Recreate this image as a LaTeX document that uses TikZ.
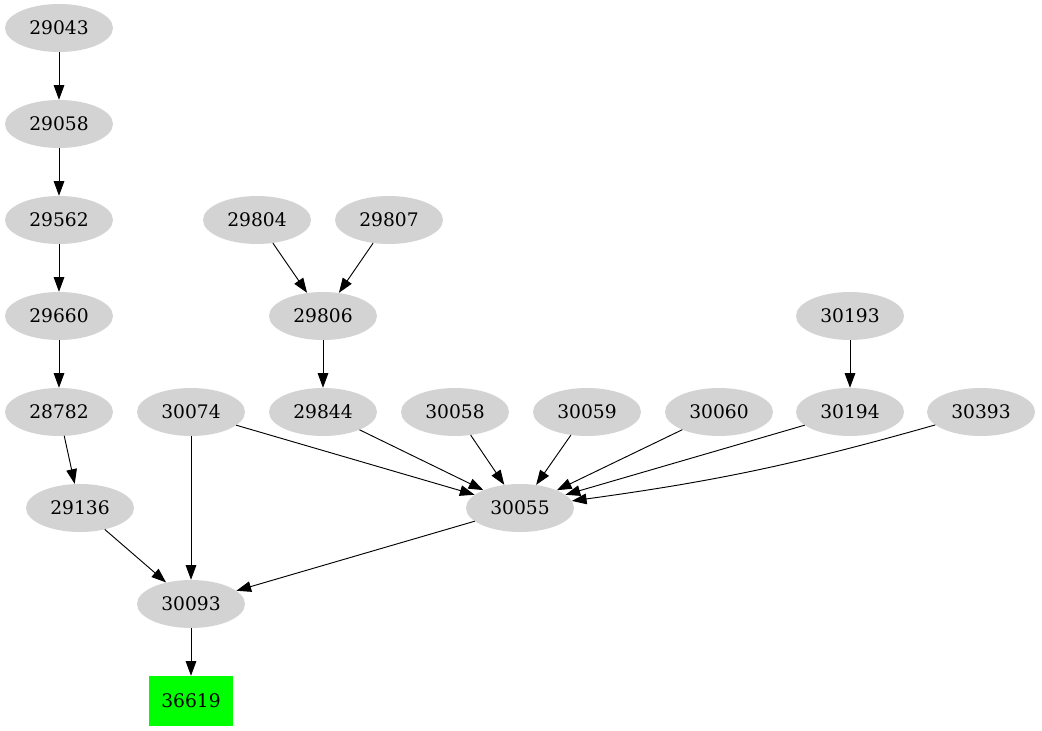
\documentclass[tikz,border=0pt]{standalone}
\usepackage{fontspec}
\setmainfont{DejaVu Serif}
\usetikzlibrary{arrows.meta,shapes.geometric}
\begin{document}
\begin{tikzpicture}[x=0.75pt, y=-0.75pt, line cap=round, line join=round,
  job/.style={ellipse, fill=jobgray, minimum width=81pt, minimum height=36pt,
    inner sep=0pt, font=\fontsize{14}{16}\selectfont},
  target/.style={rectangle, fill=green, minimum width=63pt, minimum height=37.5pt,
    inner sep=0pt, font=\fontsize{14}{16}\selectfont},
  dep/.style={-{Triangle[length=11pt,width=8pt]}, line width=0.7pt}]
  \definecolor{jobgray}{RGB}{211,211,211}
  \useasboundingbox (0,0) rectangle (1042,731);
  % left chain
  \node[job] (n29043) at (59,28) {29043};
  \node[job] (n29058) at (59,124) {29058};
  \node[job] (n29562) at (59,220) {29562};
  \node[job] (n29660) at (59,316) {29660};
  \node[job] (n28782) at (59,412) {28782};
  \node[job] (n29136) at (80,508) {29136};
  % middle
  \node[job] (n29804) at (257,220) {29804};
  \node[job] (n29807) at (389,220) {29807};
  \node[job] (n29806) at (323,316) {29806};
  \node[job] (n30074) at (191,412) {30074};
  \node[job] (n29844) at (323,412) {29844};
  \node[job] (n30058) at (455,412) {30058};
  \node[job] (n30059) at (587,412) {30059};
  \node[job] (n30060) at (719,412) {30060};
  \node[job] (n30193) at (850,316) {30193};
  \node[job] (n30194) at (850,412) {30194};
  \node[job] (n30393) at (981,412) {30393};
  \node[job] (n30055) at (520,508) {30055};
  \node[job] (n30093) at (191,604) {30093};
  \node[target] (n36619) at (191,701) {36619};
  % edges
  \draw[dep] (n29043) -- (n29058);
  \draw[dep] (n29058) -- (n29562);
  \draw[dep] (n29562) -- (n29660);
  \draw[dep] (n29660) -- (n28782);
  \draw[dep] (n28782) -- (n29136);
  \draw[dep] (n29136) -- (n30093);
  \draw[dep] (n29804) -- (n29806);
  \draw[dep] (n29807) -- (n29806);
  \draw[dep] (n29806) -- (n29844);
  \draw[dep] (n30193) -- (n30194);
  \draw[dep] (n30074) -- (n30093);
  \draw[dep] (n30074) -- (n30055);
  \draw[dep] (n29844) -- (n30055);
  \draw[dep] (n30058) -- (n30055);
  \draw[dep] (n30059) -- (n30055);
  \draw[dep] (n30060) -- (n30055);
  \draw[dep] (n30194) -- (n30055);
  \draw[dep] (n30393) to[bend left=4] (n30055);
  \draw[dep] (n30055) -- (n30093);
  \draw[dep] (n30093) -- (n36619);
\end{tikzpicture}
\end{document}
